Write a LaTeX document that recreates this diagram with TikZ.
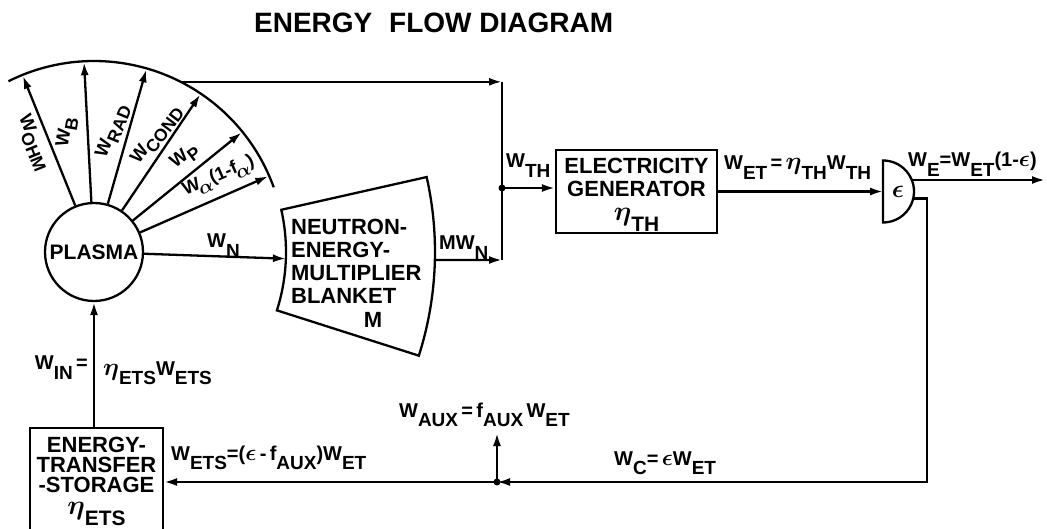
\documentclass[tikz,border=0pt]{standalone}
\usepackage{fix-cm}
\usepackage{graphicx}
\usepackage{fontspec}
\setmainfont{Liberation Sans}
\usetikzlibrary{arrows.meta,calc}
\newcommand\lw[1]{\raisebox{-0.48em}{\scalebox{0.95}{#1}}}
\newcommand\lf[1]{\raisebox{-0.32em}{\scalebox{0.95}{#1}}}
\newcommand\W[1]{W\lw{#1}}
\newcommand\Wf[1]{W\lf{#1}}
\newcommand\eT{\scalebox{1.25}{\boldmath$\eta$}}
\newcommand\eP{\scalebox{1.15}{\boldmath$\epsilon$}}
\newcommand\aL{\scalebox{1.1}{\boldmath$\alpha$}}
\begin{document}
\begin{tikzpicture}[x=1pt,y=1pt,line width=2.3pt,
  arr/.style={-{Latex[length=13pt,width=8pt]}},
  lbl/.style={font=\bfseries\fontsize{20}{22}\selectfont,inner sep=0pt},
  fan/.style={font=\bfseries\fontsize{18.5}{20}\selectfont,inner sep=0pt},
  boxtxt/.style={font=\bfseries\fontsize{22}{23}\selectfont,align=center,inner sep=0pt}]
\useasboundingbox (0,0) rectangle (1047,-529);
\clip (0,0) rectangle (1047,-529);
% title
\node[font=\bfseries\fontsize{28}{30}\selectfont,anchor=base west,inner sep=0pt] (title) at (253,-33) {ENERGY\hspace{0.6em}FLOW DIAGRAM};
% plasma
\coordinate (P) at (94,-252);
\node[draw,circle,minimum size=98pt,inner sep=0pt,font=\bfseries\fontsize{21}{22}\selectfont] (plasma) at (P) {PLASMA};
% fan arc
\draw ($(P)+(116.6:191)$) arc[start angle=116.6,end angle=19.8,radius=191];
\foreach \a/\n in {112/ohm,93/b,74/rad,56/cond,39/p,23.5/al}{
  \coordinate (t\n) at ($(P)+(\a:190)$);
  \draw[arr] (plasma.\a) -- (t\n);
}
\node[fan,rotate=-68] at (33,-143) {\Wf{OHM}};
\node[fan,rotate=80] at (67,-132) {\Wf{B}};
\node[fan,rotate=68] at (113,-131) {\Wf{RAD}};
\node[fan,rotate=53] at (157,-135) {\Wf{COND}};
\node[fan,rotate=37] at (185,-157) {\Wf{P}};
\node[fan,rotate=23.5] at (219,-177) {W\lf{\!\aL}(1-f\lf{\!\aL})};
% blanket
\draw ($(P)+(12.7:192)$) -- ($(P)+(12.7:341)$) arc[start angle=12.7,end angle=-17.7,radius=341]
  -- ($(P)+(-17.7:192)$) arc[start angle=-17.7,end angle=12.7,radius=192] -- cycle;
\node[boxtxt,align=left,anchor=north west] (blanket) at (290,-218) {NEUTRON-\\ENERGY-\\MULTIPLIER\\BLANKET};
\node[boxtxt,anchor=base] (bm) at (373,-328) {M};
\coordinate (bin) at ($(P)+(-2:192)$);
\draw[arr] (plasma.-2) -- (bin);
\node[lbl,anchor=base west] at (206,-248) {\W{N}};
% junction to generator
\coordinate (bout) at ($(P)+(-1.35:341)$);
\coordinate (jb) at (502,-260);
\coordinate (ts) at ($(P)+(63:191)$);
\coordinate (jm) at (502,-188);
\draw[arr] (ts) -- (ts -| jb);
\draw (ts -| jb) -- (jb);
\draw[arr] (bout) -- (jb);
\node[lbl,anchor=base west] at (438,-250) {M\W{N}};
\fill (jm) circle (3.5pt);
\node[draw,minimum width=161pt,minimum height=83pt,inner sep=0pt] (gen) at (636.5,-191.5) {};
\node[boxtxt,anchor=north] at (636.5,-157) {ELECTRICITY\\GENERATOR\\[1pt]\eT\lw{TH}};
\draw[arr] (jm) -- (jm -| gen.west);
\node[lbl,anchor=base west] at (505,-168) {\W{TH}};
% epsilon gate
\coordinate (G) at (883,-191.5);
\draw (883,-160.5) -- (883,-222.5) arc[start angle=-90,end angle=90,radius=31] -- cycle;
\node[font=\fontsize{22}{22}\selectfont] (eps) at (898,-192) {\eP};
\draw[arr] (gen.east) -- (G);
\node[lbl,anchor=base west] at (723,-170) {\W{ET}\,=\,\eT\lw{TH}\W{TH}};
\coordinate (gout) at ($(G)+(21.8:31)$);
\coordinate (eout) at (1045,-180);
\draw[arr] (gout) -- (gout -| eout);
\node[lbl,anchor=base west] at (907,-167) {\W{E}=\W{ET}(1-\eP)};
% feedback
\coordinate (gfb) at ($(G)+(-13:31)$);
\coordinate (fbc) at (927,-482);
\coordinate (jB) at (497,-482);
\draw[arr] (gfb) -| (fbc) -- (jB);
\fill (jB) circle (3.5pt);
\node[lbl,anchor=base west] at (613,-465) {\W{C}=\,\eP\W{ET}};
\coordinate (aux) at (497,-433);
\draw[arr] (jB) -- (aux);
\node[lbl,anchor=base west] at (398,-417) {\W{AUX}\,=\,f\lw{AUX}\,\W{ET}};
% ETS box
\node[draw,minimum width=133pt,minimum height=112pt,inner sep=0pt] (ets) at (96.5,-484) {};
\node[boxtxt,anchor=north,font=\bfseries\fontsize{22}{20}\selectfont] at (96.5,-436) {ENERGY-\\TRANSFER\\-STORAGE\\[2pt]\eT\lw{ETS}};
\draw[arr] (jB) -- (jB -| ets.east);
\node[lbl,anchor=base west] at (170,-460) {\W{ETS}=(\eP\,-\,f\lw{AUX})\W{ET}};
\draw[arr] (ets.north -| plasma.south) -- (plasma.south);
\node[lbl,anchor=base east] at (89,-370) {\W{IN}\,=};
\node[lbl,anchor=base west] at (102,-375) {\eT\lw{ETS}\W{ETS}};
\end{tikzpicture}
\end{document}
